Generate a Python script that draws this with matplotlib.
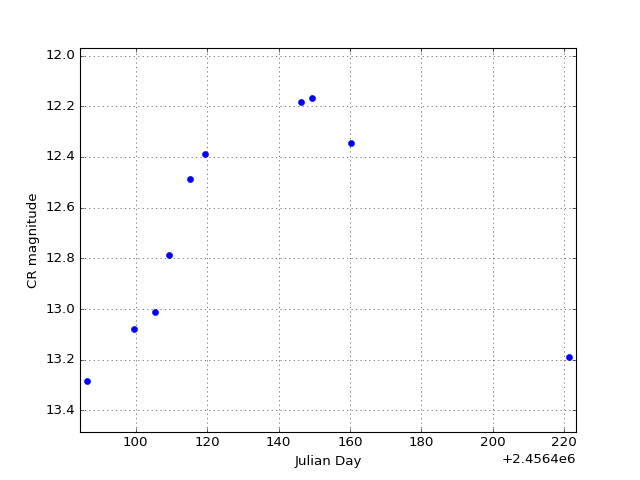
import matplotlib
matplotlib.use("Agg")
import matplotlib.pyplot as plt
from matplotlib.ticker import ScalarFormatter
import numpy as np

plt.style.use('classic')

jd_offset = 2456400.0
julian_day_rel = [86.4, 99.5, 105.5, 109.3, 115.2, 119.4, 146.2, 149.3, 160.3, 221.2]
cr_magnitude = [13.282, 13.077, 13.013, 12.785, 12.487, 12.388, 12.183, 12.168, 12.346, 13.191]

jd = np.array(julian_day_rel) + jd_offset

fig = plt.figure(figsize=(8, 6), dpi=80, facecolor='white')
ax = fig.add_axes([0.125, 0.1, 0.775, 0.8])
ax.plot(jd, cr_magnitude, 'o', color='b', markeredgecolor='b', markersize=5.5, linestyle='none')
ax.set_xlim(jd_offset + 84.44, jd_offset + 223.27)
ax.set_ylim(13.485, 11.97)
ax.set_xticks(jd_offset + np.arange(100, 221, 20))
ax.set_yticks(np.arange(12.0, 13.41, 0.2))
ax.xaxis.set_major_formatter(ScalarFormatter(useOffset=jd_offset))
ax.grid(True, color='k', linestyle=':', linewidth=0.5)
ax.set_xlabel('Julian Day')
ax.set_ylabel('CR magnitude')
fig.savefig('out.png', dpi=80, facecolor='white')
